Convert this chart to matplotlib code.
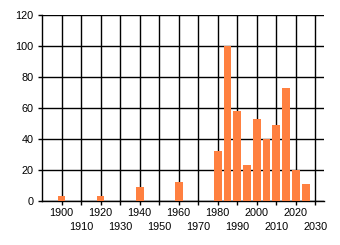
import matplotlib
matplotlib.use("Agg")
import matplotlib.pyplot as plt

years = [1900, 1920, 1940, 1960, 1980, 1985, 1990, 1995, 2000, 2005, 2010, 2015, 2020, 2025]
counts = [3, 3, 9, 12, 32, 100, 58, 23, 53, 40, 49, 73, 20, 11]
x_ticks = list(range(1900, 2031, 10))
y_ticks = [0, 20, 40, 60, 80, 100, 120]

plt.rcParams['font.family'] = ['Liberation Sans', 'DejaVu Sans']
fig = plt.figure(figsize=(3.4, 2.45), dpi=100)
ax = fig.add_axes([42/340, 1 - 201/245, (324-42)/340, (201-15)/245])

ax.bar(years, counts, width=4, color='#FF8040', zorder=3)
ax.set_xlim(1890, 2034.4)
ax.set_ylim(0, 120)
ax.set_xticks(x_ticks)
ax.set_xticklabels([str(v) for v in x_ticks])
ax.set_yticks(y_ticks)
ax.grid(True, color='black', linewidth=1, zorder=0)
for s in ['top', 'right']:
    ax.spines[s].set_visible(False)
for s in ['left', 'bottom']:
    ax.spines[s].set_linewidth(1)
ax.tick_params(axis='both', length=3, width=1, labelsize=7.8, colors='black')
ax.tick_params(axis='y', pad=3)
for i, t in enumerate(ax.xaxis.get_major_ticks()):
    t.set_pad(2 if i % 2 == 0 else 12)

fig.savefig('out.png', dpi=100)
